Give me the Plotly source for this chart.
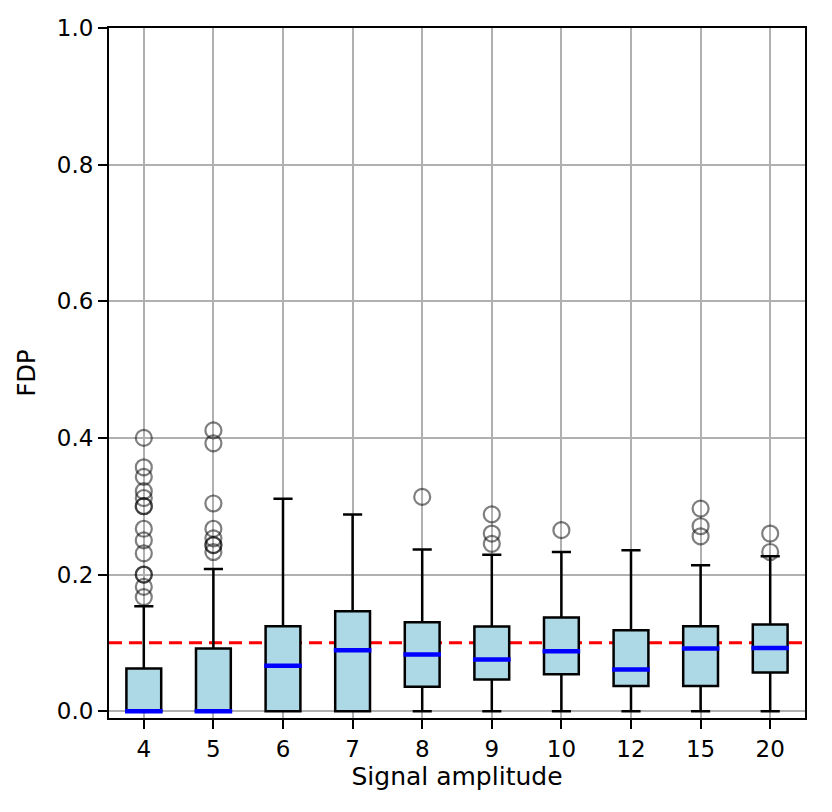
import plotly.graph_objects as go

categories = ["4", "5", "6", "7", "8", "9", "10", "12", "15", "20"]
q1 = [0.0, 0.0, 0.0, 0.0, 0.0356, 0.0463, 0.0541, 0.037, 0.037, 0.0566]
median = [0.0, 0.0, 0.0663, 0.0892, 0.0829, 0.0756, 0.0878, 0.061, 0.0917, 0.0926]
q3 = [0.0625, 0.0917, 0.1243, 0.1463, 0.130, 0.1239, 0.137, 0.1185, 0.1243, 0.1268]
lower = [0.0, 0.0, 0.0, 0.0, 0.0, 0.0, 0.0, 0.0, 0.0, 0.0]
upper = [0.1536, 0.208, 0.311, 0.288, 0.2365, 0.229, 0.233, 0.2355, 0.2136, 0.2268]
outliers = [
    [0.167, 0.182, 0.2, 0.2, 0.231, 0.25, 0.267, 0.3, 0.3, 0.312, 0.322, 0.343, 0.357, 0.4],
    [0.233, 0.243, 0.243, 0.253, 0.267, 0.304, 0.392, 0.411],
    [],
    [],
    [0.3136],
    [0.245, 0.26, 0.288],
    [0.265],
    [],
    [0.256, 0.2707, 0.2965],
    [0.233, 0.26],
]
target_fdp = 0.1

positions = list(range(1, len(categories) + 1))
FONT = "DejaVu Sans"

fig = go.Figure()

for i, p in enumerate(positions):
    fig.add_trace(go.Box(
        x=[p], q1=[q1[i]], median=[median[i]], q3=[q3[i]],
        lowerfence=[lower[i]], upperfence=[upper[i]],
        width=0.5, whiskerwidth=0.55,
        fillcolor="#ADD8E6", line=dict(color="black", width=2.5),
        boxpoints=False, hoverinfo="skip", showlegend=False,
    ))

for i, p in enumerate(positions):
    fig.add_trace(go.Scatter(
        x=[p - 0.27, p + 0.27], y=[median[i], median[i]], mode="lines",
        line=dict(color="blue", width=4.5), hoverinfo="skip", showlegend=False,
    ))

ox, oy = [], []
for i, p in enumerate(positions):
    for v in outliers[i]:
        ox.append(p)
        oy.append(v)
fig.add_trace(go.Scatter(
    x=ox, y=oy, mode="markers",
    marker=dict(symbol="circle-open", size=16, color="rgba(0,0,0,0.5)",
                line=dict(width=2.2, color="rgba(0,0,0,0.5)")),
    hoverinfo="skip", showlegend=False,
))

fig.add_shape(type="line", xref="paper", yref="y", x0=0, x1=1,
              y0=target_fdp, y1=target_fdp, layer="between",
              line=dict(color="#ff0000", width=3, dash="13px,7px"))

axis_common = dict(
    showline=True, mirror=True, linecolor="black", linewidth=2,
    ticks="outside", ticklen=9, tickwidth=2, tickcolor="black",
    showgrid=True, gridcolor="#b0b0b0", gridwidth=2, zeroline=False,
    automargin=False,
    tickfont=dict(family=FONT, size=23, color="black"),
)

fig.update_layout(
    width=832, height=812,
    margin=dict(l=101, r=35, t=20, b=102),
    plot_bgcolor="white", paper_bgcolor="white",
    font=dict(family=FONT, size=23, color="black"),
    xaxis=dict(range=[0.5, 10.5], tickvals=positions, ticktext=categories,
               title=dict(text="Signal amplitude", font=dict(family=FONT, size=25), standoff=6),
               **axis_common),
    yaxis=dict(range=[-0.01, 1.0], tickvals=[0, 0.2, 0.4, 0.6, 0.8, 1.0], tickformat=".1f",
               title=dict(text="FDP", font=dict(family=FONT, size=24), standoff=14),
               **axis_common),
    showlegend=False,
)

fig.write_html("out.html")
